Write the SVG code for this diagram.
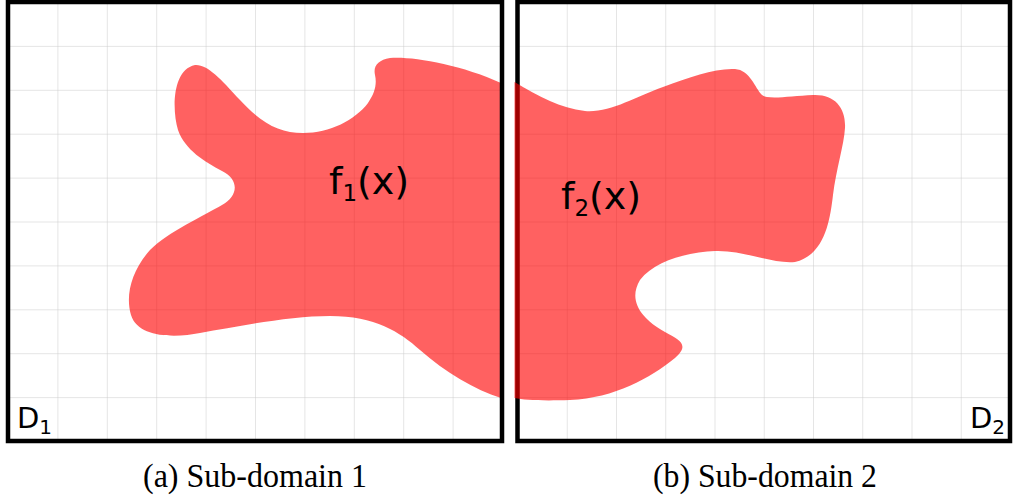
<svg xmlns="http://www.w3.org/2000/svg" width="1014" height="497" viewBox="0 0 1014 497">
  <style>
    .grid { stroke: #000; stroke-opacity: 0.2; stroke-width: 1; fill: none; }
    .frame { fill: none; stroke: #000; stroke-width: 4.5; stroke-linejoin: miter; }
    .blob { fill: #ff0000; fill-opacity: 0.62; stroke: none; }
    .lbl { font-family: "DejaVu Sans", sans-serif; fill: #000; }
    .cap { font-family: "Liberation Serif", serif; font-size: 33px; fill: #000; }
  </style>
  <defs>
    <pattern id="gridPat1" x="8" y="2" width="49.4" height="43.9" patternUnits="userSpaceOnUse">
      <path class="grid" d="M 0 0 L 0 43.9 M 0 0 L 49.4 0"/>
    </pattern>
    <pattern id="gridPat2" x="517.5" y="2" width="49.25" height="43.9" patternUnits="userSpaceOnUse">
      <path class="grid" d="M 0 0 L 0 43.9 M 0 0 L 49.25 0"/>
    </pattern>
  </defs>
  <rect width="1014" height="497" fill="#fff"/>

  <g id="subdomain1">
    <rect x="8" y="2" width="494" height="439" fill="url(#gridPat1)"/>
    <path id="f1-shape" class="blob" d="M 195,65
      C 207,64 220,78 240,100
      C 262,124 280,133 303,133
      C 330,133 355,120 368,103
      C 375,93 377,84 375,75
      C 373,66 378,60 390,58
      C 410,56 460,64 501,83
      L 501,398
      C 475,390 445,372 420,350
      C 400,332 375,316 330,316
      C 290,316 240,326 200,333
      C 175,338 138,338 131,315
      C 125,295 132,270 150,250
      C 168,232 205,215 222,205
      C 238,196 240,180 222,171
      C 205,162 185,150 178,130
      C 172,110 172,70 195,65 Z"/>
    <rect class="frame" x="8" y="2" width="494" height="439"/>
    <text class="lbl" x="329" y="194" font-size="38">f<tspan font-size="23" dy="7">1</tspan><tspan dy="-7">(x)</tspan></text>
    <text class="lbl" x="17" y="428" font-size="29">D<tspan font-size="20" dy="6">1</tspan></text>
  </g>

  <g id="subdomain2">
    <rect x="517.5" y="2" width="492.5" height="439" fill="url(#gridPat2)"/>
    <rect class="frame" x="517.5" y="2" width="492.5" height="439"/>
    <path id="f2-shape" class="blob" d="M 514.5,82
      C 540,97 560,108 585,111
      C 610,113 635,97 663,87
      C 690,77 715,68 735,69
      C 750,70 755,88 762,95
      C 768,100 790,96 813,95
      C 835,94 846,108 845,128
      C 844,145 836,170 833,195
      C 830,220 825,255 795,262
      C 770,264 745,250 715,251
      C 690,252 655,260 640,280
      C 628,300 640,318 665,332
      C 680,340 690,345 675,358
      C 650,378 615,398 570,400
      C 540,401 525,400 514.5,398 Z"/>
    <text class="lbl" x="561" y="209" font-size="38">f<tspan font-size="23" dy="7">2</tspan><tspan dy="-7">(x)</tspan></text>
    <text class="lbl" x="1005" y="428" font-size="29" text-anchor="end">D<tspan font-size="20" dy="6">2</tspan></text>
  </g>

  <g id="connectors"/>

  <g id="captions">
    <text class="cap" x="255" y="487" text-anchor="middle" textLength="224" lengthAdjust="spacingAndGlyphs">(a) Sub-domain 1</text>
    <text class="cap" x="765" y="487" text-anchor="middle" textLength="224" lengthAdjust="spacingAndGlyphs">(b) Sub-domain 2</text>
  </g>
</svg>
